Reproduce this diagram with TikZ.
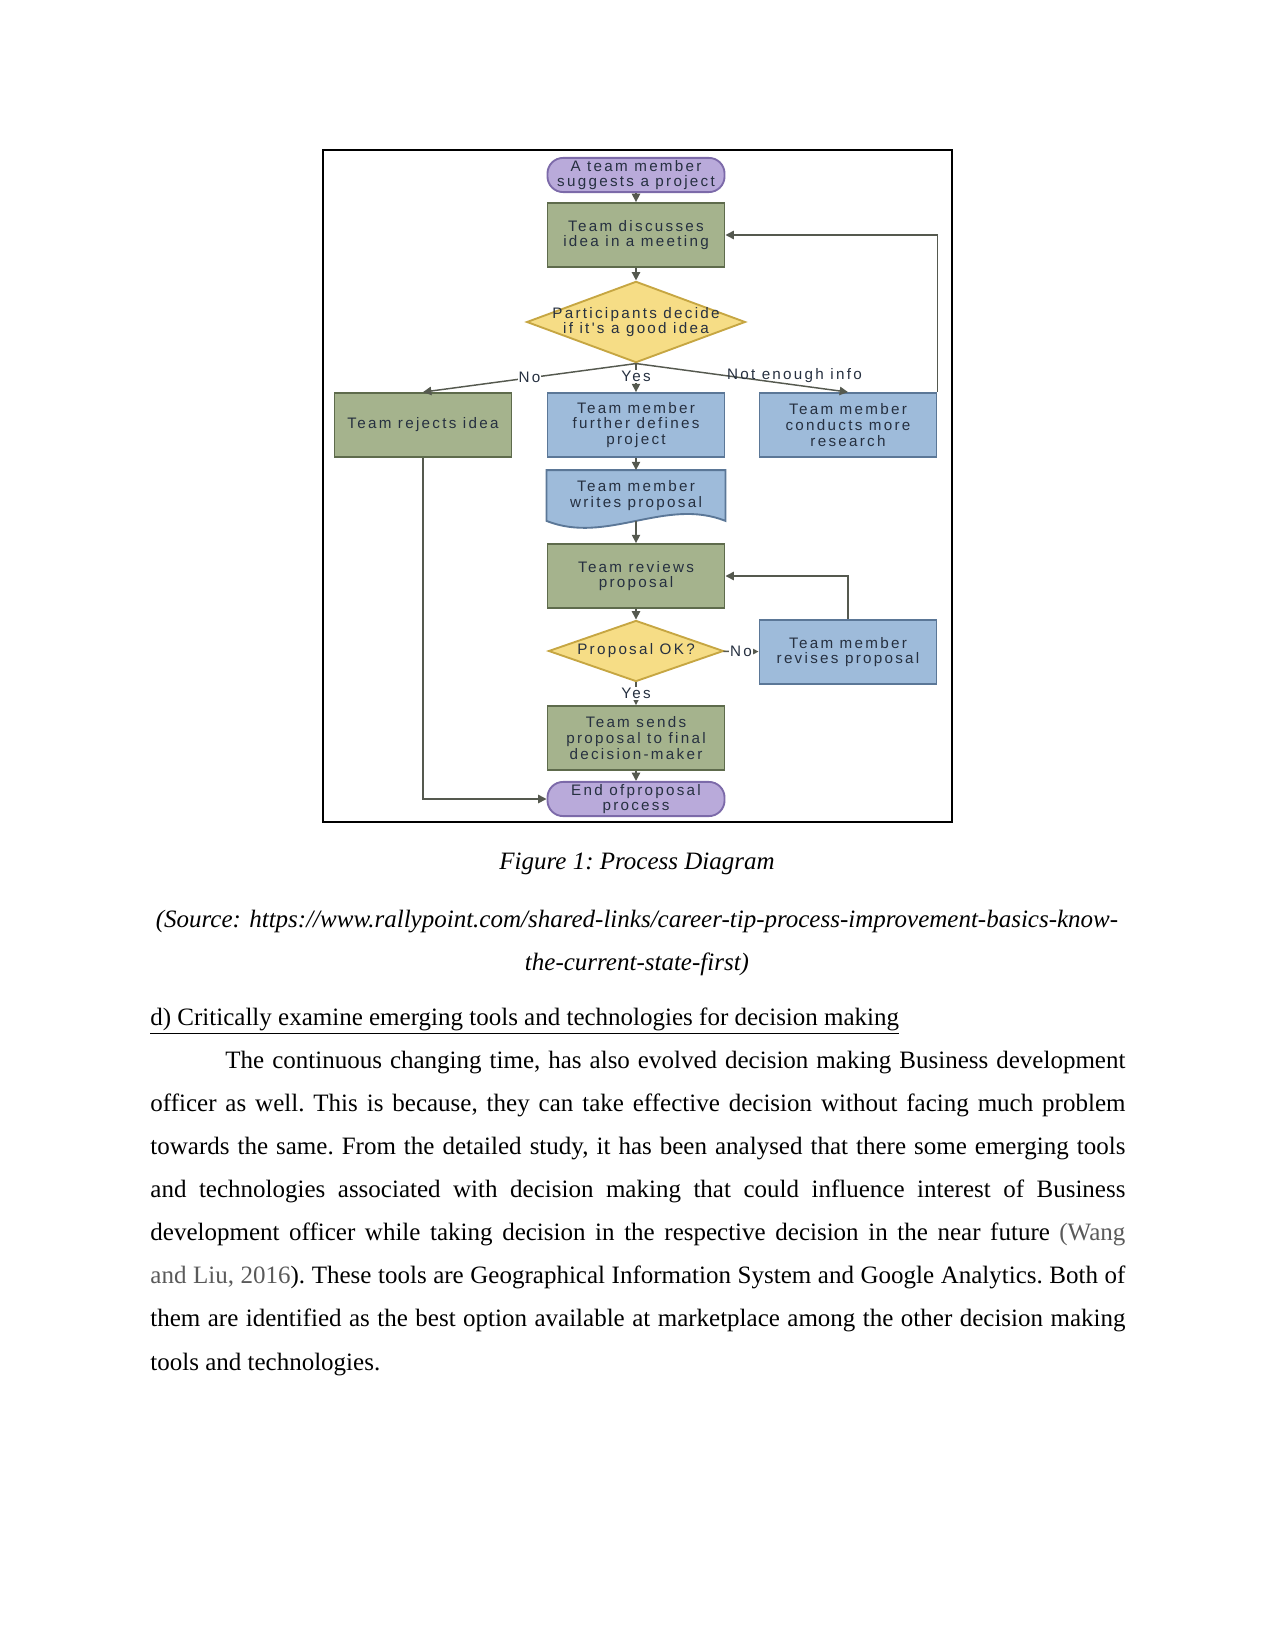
\documentclass[tikz,border=0pt]{standalone}
\usepackage{fontspec}
\setmainfont{Liberation Serif}
\newfontfamily\chartfont[LetterSpace=15]{Liberation Sans}
\usetikzlibrary{arrows.meta,positioning,shapes.geometric,shapes.misc,backgrounds}
\definecolor{fgreen}{HTML}{A5B38D}
\definecolor{fgreenD}{HTML}{5E6B4C}
\definecolor{fblue}{HTML}{9EBBDA}
\definecolor{fblueD}{HTML}{5B7797}
\definecolor{fyellow}{HTML}{F6DD86}
\definecolor{fyellowD}{HTML}{C6A642}
\definecolor{fpurple}{HTML}{B9AADA}
\definecolor{fpurpleD}{HTML}{7C6AA9}
\definecolor{ftext}{HTML}{263040}
\definecolor{fline}{HTML}{55594F}
\definecolor{citegray}{HTML}{5A5A5A}
\tikzset{
  chart/.style={font=\chartfont\fontsize{7.3}{7.6}\selectfont,text=ftext,align=center,line width=0.9pt,inner sep=1pt},
  proc/.style={chart,rectangle,fill=fgreen,draw=fgreenD,minimum width=85pt,minimum height=30.7pt},
  task/.style={chart,rectangle,fill=fblue,draw=fblueD,minimum width=85pt,minimum height=30.7pt},
  term/.style={chart,rectangle,rounded corners=7.5pt,fill=fpurple,draw=fpurpleD,minimum width=85pt,minimum height=15.4pt,inner xsep=0pt},
  decide/.style={chart,diamond,fill=fyellow,draw=fyellowD,inner xsep=-8pt,inner ysep=-2pt,shape aspect=2.8},
  arr/.style={-{Triangle[length=4pt,width=4pt]},line width=0.7pt,draw=fline},
  lbl/.style={chart,fill=white,inner sep=0.5pt},
  body/.style={font=\fontsize{12}{20.7}\selectfont,inner sep=0pt},
}
\begin{document}
\frenchspacing
\begin{tikzpicture}[x=0.48pt,y=-0.48pt]
  \useasboundingbox (0,0) rectangle (1275,1651);
  % figure frame
  \draw[line width=1pt] (323,150) rectangle (952,822);

  % flowchart
  \node[term] (start) at (636,175) {A team member\\suggests a project};
  \node[proc] (discuss) at (636,235) {Team discusses\\idea in a meeting};
  \node[decide,minimum width=105pt,minimum height=39pt] (good) at (636,322) {Participants decide\\if it's a good idea};
  \node[proc] (reject) at (423,425) {Team rejects idea};
  \node[task] (define) at (636,425) {Team member\\further defines\\project};
  \node[task] (research) at (848,425) {Team member\\conducts more\\research};
  \node[chart,minimum width=85pt,minimum height=23.5pt] (writes) at (636,495.5) {Team member\\writes proposal};
  \begin{pgfonlayer}{background}
    \path[fill=fblue,draw=fblueD,line width=0.9pt] (writes.south west) -- (writes.north west) -- (writes.north east)
      -- (writes.south east) .. controls +(-60,-24) and +(60,24) .. (writes.south west) -- cycle;
  \end{pgfonlayer}
  \node[proc] (review) at (636,576) {Team reviews\\proposal};
  \node[decide,minimum width=84pt,minimum height=29.3pt] (ok) at (636,651) {Proposal OK?};
  \node[task] (revise) at (848,652) {Team member\\revises proposal};
  \node[proc] (sends) at (636,738) {Team sends\\proposal to final\\decision-maker};
  \node[term] (finish) at (636,799) {End ofproposal\\process};

  \draw[arr] (start) -- (discuss);
  \draw[arr] (discuss) -- (good);
  \draw[arr] (good.south) -- node[lbl,pos=0.5] {No} (reject.north);
  \draw[arr] (good.south) -- node[lbl,pos=0.45] {Yes} (define.north);
  \draw[arr] (good.south) -- node[chart,pos=0.42,anchor=west,inner sep=0.5pt] {Not enough info} (research.north);
  \draw[arr] (research.north east) |- (discuss.east);
  \draw[arr] (define) -- (writes);
  \draw[arr] (writes.south) -- (review);
  \draw[arr] (review) -- (ok);
  \draw[arr] (ok) -- node[lbl] {No} (revise);
  \draw[arr] (revise.north) |- (review.east);
  \draw[arr] (ok) -- node[lbl] {Yes} (sends);
  \draw[arr] (sends) -- (finish);
  \draw[arr] (reject.south) |- (finish.west);

  % caption and text
  \node[body,font=\itshape\fontsize{12}{20.7}\selectfont] (caption) at (637,864) {Figure 1: Process Diagram};
  \node[body,font=\itshape\fontsize{12}{20.7}\selectfont,text width=468pt,align=center,anchor=base] (source) at (637,927)
    {(Source: https://www.rallypoint.com/shared-links/career-tip-process-improvement-basics-know-\\the-current-state-first)};
  \node[body,text width=468pt,align=justify,anchor=base west] (para) at (150,1025) {%
    \underline{d) Critically examine emerging tools and technologies for decision making}\\
    \hspace*{36pt}The continuous changing time, has also evolved decision making Business development\linebreak
    officer as well. This is because, they can take effective decision without facing much problem\linebreak
    towards the same. From the detailed study, it has been analysed that there some emerging tools\linebreak
    and technologies associated with decision making that could influence interest of Business\linebreak
    development officer while taking decision in the respective decision in the near future {\color{citegray}(Wang}\linebreak
    {\color{citegray}and Liu, 2016}). These tools are Geographical Information System and Google Analytics. Both of\linebreak
    them are identified as the best option available at marketplace among the other decision making\linebreak
    tools and technologies.};
\end{tikzpicture}
\end{document}
